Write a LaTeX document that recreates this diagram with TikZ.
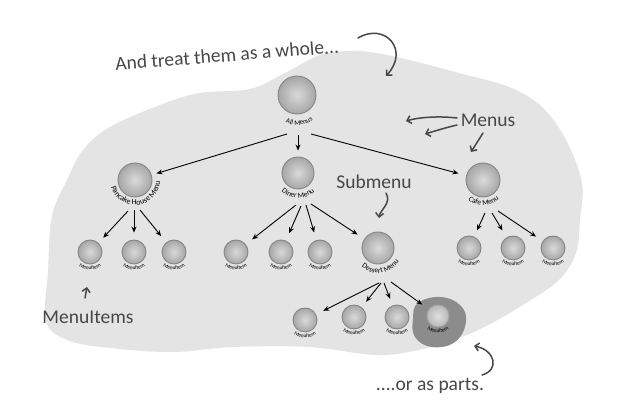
\documentclass[tikz,border=0pt]{standalone}
\usepackage{fontspec}
\setmainfont{Carlito}
\usetikzlibrary{arrows.meta,decorations.text,calc}
\definecolor{bg}{HTML}{E4E4E4}
\definecolor{hl}{HTML}{8C8C8C}
\definecolor{ink}{HTML}{474747}
\definecolor{ballin}{HTML}{DADADA}
\definecolor{ballout}{HTML}{A6A6A6}
\definecolor{ballrim}{HTML}{858585}
\tikzset{
  ball/.style={circle, draw=ballrim, line width=0.9pt, inner color=ballin, outer color=ballout, inner sep=0pt, minimum size=#1},
  link/.style={-{Stealth[length=6pt,width=5pt]}, line width=0.9pt, black},
  note/.style={ink, font=\fontsize{19.5}{21}\selectfont, inner sep=0pt},
  noteline/.style={ink, line width=1.5pt, line cap=round, -{Straight Barb[length=4pt,width=8pt]}},
}
\newcommand\arclabel[5]{%
  \path[decorate,decoration={text along path,text align=center,
     text={|\fontsize{#4}{#4}\selectfont|#5}}]
     (#1.center) ++({#3-80}:#2) arc[start angle={#3-80},end angle={#3+80},radius=#2];}
\begin{document}
\begin{tikzpicture}[x=1pt,y=1pt]
\useasboundingbox (0,0) rectangle (619,411);
\fill[white] (0,0) rectangle (619,411);
% background blob
\fill[bg] plot[smooth cycle, tension=0.6] coordinates {
 (52,195) (67,231) (83,261) (110,284) (160,306) (200,318) (250,322) (285,338) (320,356) (350,360)
 (376,358) (409,351) (459,338) (509,324) (542,304) (566,271) (582,228) (580,191) (576,158)
 (559,131) (526,108) (492,88) (459,73) (419,61) (376,56) (309,64) (233,64) (173,59) (110,63)
 (67,71) (46,90) (48,140)};
% highlight blob
\fill[hl] plot[smooth cycle, tension=0.7] coordinates {
 (418,108) (440,114) (460,106) (466,89) (455,69) (432,64) (415,74) (413,93)};
% balls
\node[ball=38pt] (all) at (297,316) {};
\node[ball=34pt] (pancake) at (135,231) {};
\node[ball=32pt] (diner) at (298,238) {};
\node[ball=34pt] (cafe) at (483,231) {};
\node[ball=32pt] (dessert) at (378,163) {};
\foreach \n/\x/\y in {p1/90/159,p2/134/159,p3/174/159,d1/236/159,d2/281/159,d3/320/159,
  c1/469/163,c2/513/163,c3/553/163,s1/305/91,s2/354/94,s3/397/94}{
  \node[ball=24pt] (\n) at (\x,\y) {};
  \arclabel{\n}{18}{270}{5.5}{MenuItem}
}
\node[ball=22pt, inner color=gray!25, outer color=gray!55, draw=gray!70] (s4) at (438,95) {};
\arclabel{s4}{17}{270}{5.5}{MenuItem}
% labels
\arclabel{all}{30}{275}{7}{All Menus}
\arclabel{pancake}{25}{277}{8}{Pancake House Menu}
\arclabel{diner}{25}{270}{7.5}{Diner Menu}
\arclabel{cafe}{25}{272}{7.5}{Cafe Menu}
\arclabel{dessert}{25}{278}{7.5}{Dessert Menu}
% structure arrows
\draw[link, shorten >=5pt] ([shift={(-10,-39)}]all.center) -- (pancake);
\draw[link, shorten >=6pt] ([shift={(1,-40)}]all.center) -- (diner);
\draw[link, shorten >=8pt] ([shift={(14,-39)}]all.center) -- (cafe);
\draw[link, shorten >=7pt] ([shift={(-7,-31)}]pancake.center) -- (p1);
\draw[link, shorten >=7pt] ([shift={(-1,-30)}]pancake.center) -- (p2);
\draw[link, shorten >=8pt] ([shift={(5,-30)}]pancake.center) -- (p3);
\draw[link, shorten >=8pt] ([shift={(-2,-32)}]diner.center) -- (d1);
\draw[link, shorten >=8pt] ([shift={(3,-33)}]diner.center) -- (d2);
\draw[link, shorten >=8pt] ([shift={(8,-32)}]diner.center) -- (d3);
\draw[link, shorten >=8pt] ([shift={(13,-31)}]diner.center) -- (dessert);
\draw[link, shorten >=7pt] ([shift={(2,-33)}]cafe.center) -- (c1);
\draw[link, shorten >=8pt] ([shift={(9,-33)}]cafe.center) -- (c2);
\draw[link, shorten >=8pt] ([shift={(15,-31)}]cafe.center) -- (c3);
\draw[link, shorten >=8pt] ([shift={(1,-35)}]dessert.center) -- (s1);
\draw[link, shorten >=7pt] ([shift={(3,-35)}]dessert.center) -- (s2);
\draw[link, shorten >=7pt] ([shift={(6,-35)}]dessert.center) -- (s3);
\draw[link, shorten >=8pt] ([shift={(13,-34)}]dessert.center) -- (s4);
% annotations
\node[note, rotate=4.5] (whole) at (227,356) {And treat them as a whole...};
\node[note] (menus) at (488,291) {Menus};
\node[note] (submenu) at (374,229) {Submenu};
\node[note] (itemsnote) at (88,94) {MenuItems};
\node[note] (parts) at (430,25) {....or as parts.};
\coordinate (w0) at (358,373); \coordinate (w1) at (386,335);
\draw[noteline] (w0) .. controls (385,389) and (410,361) .. (w1);
\coordinate (m1s) at (457,293); \coordinate (m1e) at (406,290);
\coordinate (m2s) at (457,286); \coordinate (m2e) at (425,277);
\coordinate (m3s) at (483,278); \coordinate (m3e) at (471,259);
\draw[noteline] (m1s) .. controls (440,295) and (420,294) .. (m1e);
\draw[noteline] (m2s) .. controls (445,283) .. (m2e);
\draw[noteline] (m3s) -- (m3e);
\coordinate (sb0) at (386,218); \coordinate (sb1) at (379,193);
\draw[noteline] (sb0) .. controls (392,208) and (380,201) .. (sb1);
\coordinate (it0) at (85,113); \coordinate (it1) at (87,124);
\draw[noteline] (it0) -- (it1);
\coordinate (pa0) at (482,36); \coordinate (pa1) at (474,65);
\draw[noteline] (pa0) .. controls (500,41) and (495,61) .. (pa1);
\end{tikzpicture}
\end{document}
